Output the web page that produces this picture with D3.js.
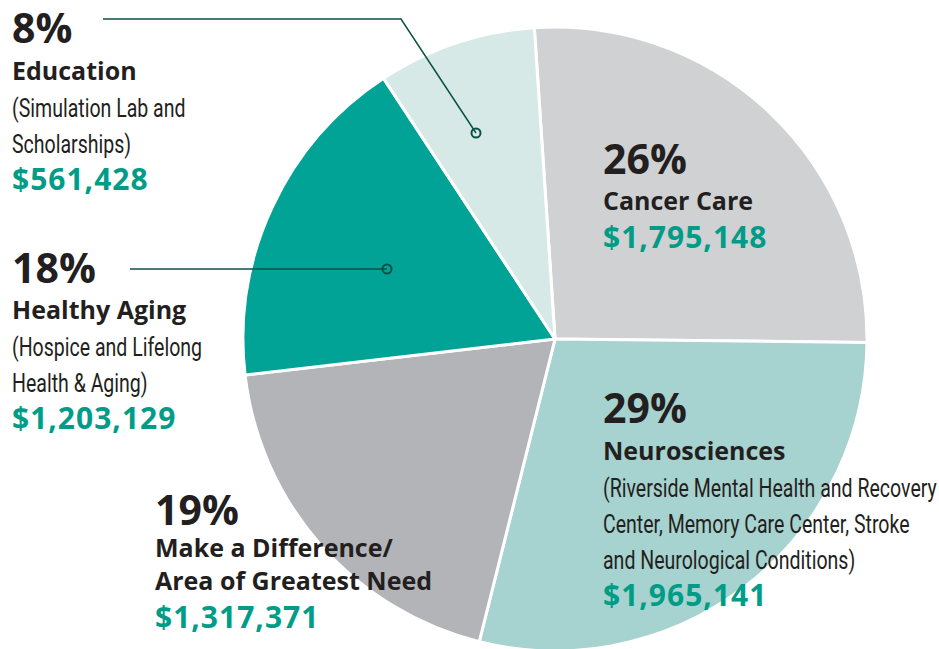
<!DOCTYPE html>
<html>
<head>
<meta charset="utf-8">
<script src="https://cdn.jsdelivr.net/npm/d3@7"></script>
<style>
  body { margin: 0; background: #fff; }
  .pct { font-family: "Open Sans", sans-serif; font-weight: 700; fill: #231f20; }
  .name { font-family: "Open Sans", sans-serif; font-weight: 700; fill: #231f20; }
  .sub { font-family: Roboto, sans-serif; fill: #231f20; }
  .amt { font-family: "Open Sans", sans-serif; font-weight: 700; fill: #009c88; }
</style>
</head>
<body>
<div class="chart"></div>
<script>
var fullWidth = 939, fullHeight = 649;

// data (clockwise from the top)
var categories = [`Cancer Care`, `Neurosciences`, `Make a Difference`, `Healthy Aging`, `Education`];
var amounts = [1795148, 1965141, 1317371, 1203129, 561428];
var percentLabels = [`26%`, `29%`, `19%`, `18%`, `8%`];
var nameLines = [
    [`Cancer Care`],
    [`Neurosciences`],
    [`Make a Difference/`, `Area of Greatest Need`],
    [`Healthy Aging`],
    [`Education`]
];
var subLines = [
    [],
    [`(Riverside Mental Health and Recovery`, `Center, Memory Care Center, Stroke`, `and Neurological Conditions)`],
    [],
    [`(Hospice and Lifelong`, `Health & Aging)`],
    [`(Simulation Lab and`, `Scholarships)`]
];
var colors = [`#d0d1d3`, `#a6d2cf`, `#b3b4b8`, `#00a396`, `#d6e9e6`];

var cx = 555, cy = 339, radius = 312;

var svg = d3.select(`.chart`)
    .append(`svg`)
    .attr(`width`, fullWidth)
    .attr(`height`, fullHeight)
    .attr(`viewBox`, `0 0 ${fullWidth} ${fullHeight}`);

var startAngle = -3.8 * Math.PI / 180;
var pie = d3.pie()
    .sort(null)
    .value(d => d.value)
    .startAngle(startAngle)
    .endAngle(startAngle + 2 * Math.PI);

var arc = d3.arc().innerRadius(0).outerRadius(radius);

var data = categories.map((c, i) => ({name: c, value: amounts[i], color: colors[i]}));

svg.append(`g`)
    .attr(`transform`, `translate(${cx},${cy})`)
    .selectAll(`path`)
    .data(pie(data))
    .enter()
    .append(`path`)
    .attr(`d`, arc)
    .style(`fill`, d => d.data.color)
    .style(`stroke`, `#fff`)
    .style(`stroke-width`, 3)
    .style(`stroke-linejoin`, `round`);

// leader lines for the two labels that sit outside the pie
var leaders = [
    {points: [[103, 19], [401, 19], [476, 133]]},
    {points: [[130, 269], [387, 269]]}
];
leaders.forEach(l => {
    var end = l.points[l.points.length - 1];
    svg.append(`path`)
        .attr(`d`, d3.line()(l.points))
        .style(`fill`, `none`)
        .style(`stroke`, `#0b5147`)
        .style(`stroke-width`, 1.5);
    svg.append(`circle`)
        .attr(`cx`, end[0])
        .attr(`cy`, end[1])
        .attr(`r`, 4.5)
        .style(`fill`, `none`)
        .style(`stroke`, `#0b5147`)
        .style(`stroke-width`, 2);
});

// the sub lines use a condensed face; squeeze a regular one to the same width
var probe = svg.append(`text`).attr(`class`, `sub`).style(`font-size`, `25px`)
    .text(subLines[1][0]);
var squeeze = 334 / probe.node().getComputedTextLength();
probe.remove();

// label blocks: x, baseline of the percentage, gap to the name
var blocks = [
    {x: 603, y: 174, gap: 36},
    {x: 603, y: 423, gap: 37},
    {x: 155, y: 525, gap: 32},
    {x: 12, y: 283, gap: 36},
    {x: 12, y: 43, gap: 37}
];
var fmt = d3.format(`$,`);

blocks.forEach((b, i) => {
    var g = svg.append(`g`).attr(`transform`, `translate(${b.x},0)`);
    var y = b.y;
    g.append(`text`).attr(`class`, `pct`).attr(`y`, y)
        .style(`font-size`, `41px`)
        .text(percentLabels[i]);
    y += b.gap;
    nameLines[i].forEach((t, j) => {
        if (j > 0) y += 33;
        g.append(`text`).attr(`class`, `name`).attr(`y`, y)
            .style(`font-size`, `25px`)
            .text(t);
    });
    subLines[i].forEach(t => {
        y += 36;
        g.append(`text`).attr(`class`, `sub`)
            .attr(`transform`, `translate(0,${y + 1}) scale(${squeeze},1)`)
            .style(`font-size`, `25px`)
            .text(t);
    });
    y += 38;
    g.append(`text`).attr(`class`, `amt`).attr(`y`, y)
        .style(`font-size`, `30px`).style(`letter-spacing`, `1px`)
        .text(fmt(amounts[i]));
});
</script>
</body>
</html>
